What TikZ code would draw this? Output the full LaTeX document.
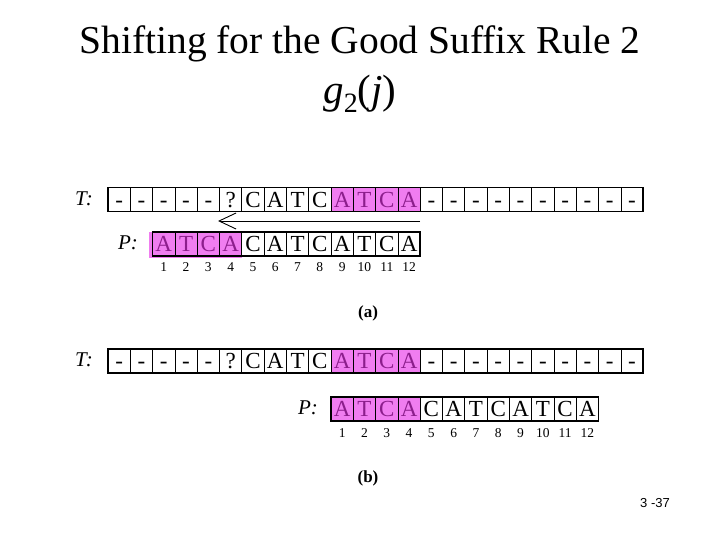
\documentclass[tikz,border=0pt]{standalone}
\usepackage{fontspec}
\setmainfont{Liberation Serif}
\newfontfamily\slidesans{Liberation Sans}
\usepackage{xcolor}
\usetikzlibrary{arrows.meta}
\definecolor{hilite}{RGB}{240,125,240}
\definecolor{hilitetext}{RGB}{140,30,140}
\tikzset{
  cell/.style={draw,line width=0.8pt,minimum width=22.3pt,minimum height=24pt,
    inner sep=0pt,outer sep=0pt,text height=15.5pt,text depth=0pt,
    font=\fontsize{23}{23}\selectfont},
  hl0/.style={},
  hl1/.style={fill=hilite,text=hilitetext},
  idx/.style={inner sep=0pt,font=\fontsize{13.5}{13.5}\selectfont},
  rowlabel/.style={inner sep=0pt,font=\fontsize{21}{21}\selectfont\itshape},
  caselabel/.style={inner sep=0pt,font=\fontsize{17}{17}\selectfont\bfseries},
  rowframe/.style={line width=1.6pt},
}

\begin{document}
\begin{tikzpicture}[x=1pt,y=-1pt]
\useasboundingbox (0,0) rectangle (720,540);
% title
\node[anchor=base,inner sep=0pt,font=\fontsize{39.5}{39.5}\selectfont] (title) at (360,54)
  {Shifting for the Good Suffix Rule 2};
\node[anchor=base,inner sep=0pt,font=\fontsize{41}{41}\selectfont] (rule) at (360,104)
  {\textit{g}\raisebox{-0.45ex}{\fontsize{28}{28}\selectfont 2}(\textit{j})};
% (a) text row
\node[rowlabel] (Ta) at (84,199) {T:};
\foreach \c [count=\i] in {-,-,-,-,-,?,C,A,T,C,A,T,C,A,-,-,-,-,-,-,-,-,-,-}{
  \pgfmathtruncatemacro\h{and(\i>10,\i<15)}
  \node[cell,hl\h] (ta\i) at ({108+22.3*(\i-0.5)},199.5) {\c};
}
\draw[rowframe] (ta1.north west) rectangle (ta24.south east);
% (a) pattern row
\node[rowlabel] (Pa) at (128,243) {P:};
\fill[hilite] (149,232) rectangle (242,258);
\foreach \c [count=\i] in {A,T,C,A,C,A,T,C,A,T,C,A}{
  \pgfmathtruncatemacro\h{\i<5}
  \node[cell,hl\h] (pa\i) at ({152.6+22.3*(\i-0.5)},244) {\c};
  \node[idx] (na\i) at (pa\i |- 0,267) {\i};
}
\draw[rowframe] (pa1.north west) rectangle (pa12.south east);
% shift arrow
\coordinate (shiftfrom) at (420,221);
\coordinate (shiftto) at (218,221);
\draw[line width=0.9pt,-{Straight Barb[length=17pt,width=16pt,line width=0.9pt]}]
  (shiftfrom) -- (shiftto);
\node[caselabel] (capa) at (368,313) {(a)};
% (b) text row
\node[rowlabel] (Tb) at (84,360) {T:};
\foreach \c [count=\i] in {-,-,-,-,-,?,C,A,T,C,A,T,C,A,-,-,-,-,-,-,-,-,-,-}{
  \pgfmathtruncatemacro\h{and(\i>10,\i<15)}
  \node[cell,hl\h] (tb\i) at ({108+22.3*(\i-0.5)},361) {\c};
}
\draw[rowframe] (tb1.north west) rectangle (tb24.south east);
% (b) pattern row
\node[rowlabel] (Pb) at (308,408) {P:};
\foreach \c [count=\i] in {A,T,C,A,C,A,T,C,A,T,C,A}{
  \pgfmathtruncatemacro\h{\i<5}
  \node[cell,hl\h] (pb\i) at ({331+22.3*(\i-0.5)},409) {\c};
  \node[idx] (nb\i) at (pb\i |- 0,433) {\i};
}
\draw[rowframe] (pb1.north west) rectangle (pb12.south east);
\node[caselabel] (capb) at (368,478) {(b)};
% slide number
\node[inner sep=0pt,font=\slidesans\fontsize{13}{13}\selectfont] (slideno) at (655,503) {3 -37};
\end{tikzpicture}
\end{document}
